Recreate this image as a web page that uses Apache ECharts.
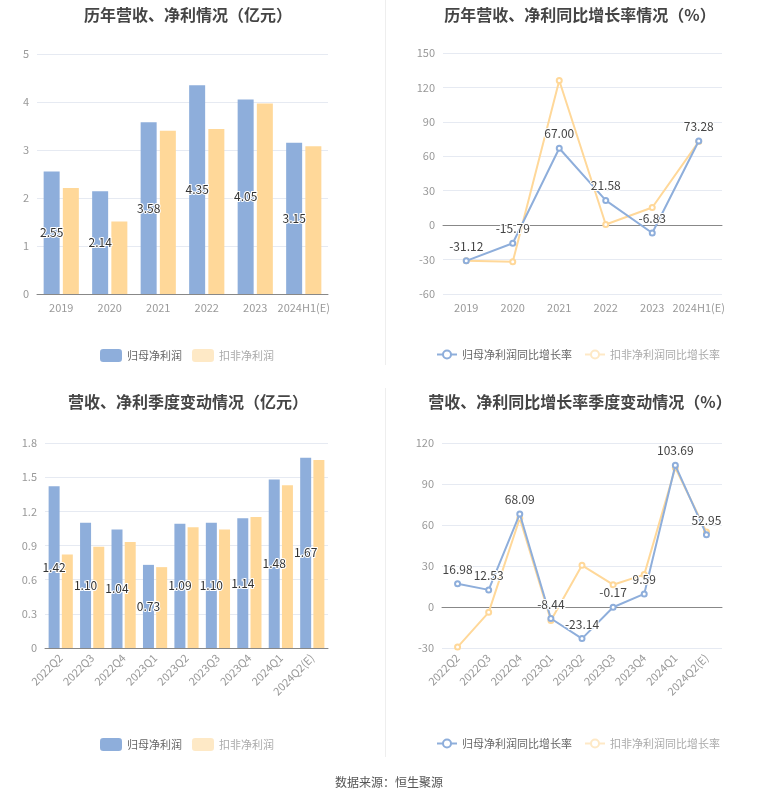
<!DOCTYPE html>
<html><head><meta charset="utf-8">
<script src="https://cdn.jsdelivr.net/npm/echarts@6/dist/echarts.min.js"></script>
<style>html,body{margin:0;padding:0;background:#fff;}#c{width:765px;height:801px;}</style>
</head><body><div id="c"></div>
<script>
const yearCats = ['2019','2020','2021','2022','2023','2024H1(E)'];
const yearNetProfit = [2.55, 2.14, 3.58, 4.35, 4.05, 3.15];
const yearDeductProfit = [2.21, 1.51, 3.40, 3.44, 3.97, 3.08];
const yearNetGrowth = [-31.12, -15.79, 67.00, 21.58, -6.83, 73.28];
const yearDeductGrowth = [-31.1, -32.0, 126.0, 0.6, 15.4, 72.8];
const qCats = ['2022Q2','2022Q3','2022Q4','2023Q1','2023Q2','2023Q3','2023Q4','2024Q1','2024Q2(E)'];
const qNetProfit = [1.42, 1.10, 1.04, 0.73, 1.09, 1.10, 1.14, 1.48, 1.67];
const qDeductProfit = [0.82, 0.89, 0.93, 0.71, 1.06, 1.04, 1.15, 1.43, 1.65];
const qNetGrowth = [16.98, 12.53, 68.09, -8.44, -23.14, -0.17, 9.59, 103.69, 52.95];
const qDeductGrowth = [-29.3, -3.9, 64.9, -9.8, 30.5, 16.3, 23.7, 101.9, 54.9];

const BLUE = '#8eaedb', YEL = '#ffd899', YEL_LIGHT = '#fee9c6';
const FONT = '"Noto Sans CJK SC", sans-serif';
const chart = echarts.init(document.getElementById('c'));
const fmt2 = p => Number(p.value).toFixed(2);

function title(text, x, y){
  return {text, left: x, top: y, textAlign: 'center',
    textStyle:{fontSize:16, fontWeight:'bold', color:'#454545', fontFamily:FONT}};
}
function xAxis(gi, data, rotate){
  return {type:'category', gridIndex:gi, data,
    axisLine:{lineStyle:{color:'#888'}},
    axisTick:{alignWithLabel:true, lineStyle:{color:'#888'}},
    axisLabel:{color:'#999', fontSize:11, rotate: rotate||0, interval:0, fontFamily:FONT, margin:8}};
}
function yAxis(gi, min, max, interval){
  return {type:'value', gridIndex:gi, min, max, interval,
    axisLine:{show:false}, axisTick:{show:false},
    axisLabel:{color:'#999', fontSize:11, fontFamily:FONT},
    splitLine:{lineStyle:{color:'#e6eaf2'}}};
}
const barLabel = {show:true, position:'inside', color:'#333', fontSize:12, formatter:fmt2,
  textBorderColor:'#fff', textBorderWidth:2, fontFamily:FONT};
const lineLabel = {show:true, position:'top', color:'#444', fontSize:12, formatter:fmt2,
  textBorderColor:'#fff', textBorderWidth:2, fontFamily:FONT};
function barLegend(top){
  return {top, left:95, itemWidth:22, itemHeight:13, itemGap:10,
    textStyle:{fontSize:11, fontFamily:FONT},
    data:[{name:'归母净利润', icon:'roundRect', itemStyle:{color:BLUE}, textStyle:{color:'#666'}},
          {name:'扣非净利润', icon:'roundRect', itemStyle:{color:YEL_LIGHT}, textStyle:{color:'#aaa'}}]};
}
function lineLegend(top){
  return {top, right:40, itemWidth:20, itemHeight:10, itemGap:12,
    textStyle:{fontSize:11, fontFamily:FONT},
    data:[{name:'归母净利润同比增长率', textStyle:{color:'#666'}},
          {name:'扣非净利润同比增长率', itemStyle:{color:YEL_LIGHT}, lineStyle:{color:YEL_LIGHT}, textStyle:{color:'#aaa'}}]};
}

const option = {
  animation:false,
  textStyle:{fontFamily:FONT},
  title:[
    title('历年营收、净利情况（亿元）', 183, 2),
    title('历年营收、净利同比增长率情况（%）', 575, 2),
    title('营收、净利季度变动情况（亿元）', 183, 389),
    title('营收、净利同比增长率季度变动情况（%）', 575, 389),
    {text:'数据来源：恒生聚源', left:384, top:771, textAlign:'center',
      textStyle:{fontSize:12, fontWeight:'normal', color:'#555', fontFamily:FONT}}
  ],
  legend:[ barLegend(344), lineLegend(344), barLegend(733), lineLegend(733) ],
  grid:[
    {left:37, right:437, top:54, bottom:507},
    {left:443, right:43, top:53, bottom:507},
    {left:45, right:437, top:443, bottom:153},
    {left:442, right:43, top:443, bottom:153}
  ],
  xAxis:[ xAxis(0, yearCats), xAxis(1, yearCats), xAxis(2, qCats, 45), xAxis(3, qCats, 45) ],
  yAxis:[ yAxis(0,0,5,1), yAxis(1,-60,150,30), yAxis(2,0,1.8,0.3), yAxis(3,-30,120,30) ],
  graphic:[
    {type:'line', shape:{x1:385.5,y1:0,x2:385.5,y2:365}, style:{stroke:'#eeeeee', lineWidth:1}},
    {type:'line', shape:{x1:385.5,y1:388,x2:385.5,y2:757}, style:{stroke:'#eeeeee', lineWidth:1}}
  ],
  series:[
    {name:'归母净利润', type:'bar', xAxisIndex:0, yAxisIndex:0, data:yearNetProfit, barWidth:16, barGap:'20%',
      itemStyle:{color:BLUE}, label:barLabel},
    {name:'扣非净利润', type:'bar', xAxisIndex:0, yAxisIndex:0, data:yearDeductProfit, barWidth:16, barGap:'20%',
      itemStyle:{color:YEL}},
    {name:'归母净利润同比增长率', type:'line', xAxisIndex:1, yAxisIndex:1, data:yearNetGrowth,
      symbol:'emptyCircle', symbolSize:5, lineStyle:{width:2, color:BLUE}, itemStyle:{color:BLUE}, label:lineLabel, z:3},
    {name:'扣非净利润同比增长率', type:'line', xAxisIndex:1, yAxisIndex:1, data:yearDeductGrowth,
      symbol:'emptyCircle', symbolSize:5, lineStyle:{width:2, color:YEL}, itemStyle:{color:YEL}, z:2},
    {name:'归母净利润', type:'bar', xAxisIndex:2, yAxisIndex:2, data:qNetProfit, barWidth:11, barGap:'20%',
      itemStyle:{color:BLUE}, label:barLabel},
    {name:'扣非净利润', type:'bar', xAxisIndex:2, yAxisIndex:2, data:qDeductProfit, barWidth:11, barGap:'20%',
      itemStyle:{color:YEL}},
    {name:'归母净利润同比增长率', type:'line', xAxisIndex:3, yAxisIndex:3, data:qNetGrowth,
      symbol:'emptyCircle', symbolSize:5, lineStyle:{width:2, color:BLUE}, itemStyle:{color:BLUE}, label:lineLabel, z:3},
    {name:'扣非净利润同比增长率', type:'line', xAxisIndex:3, yAxisIndex:3, data:qDeductGrowth,
      symbol:'emptyCircle', symbolSize:5, lineStyle:{width:2, color:YEL}, itemStyle:{color:YEL}, z:2}
  ]
};
chart.setOption(option);
</script></body></html>
